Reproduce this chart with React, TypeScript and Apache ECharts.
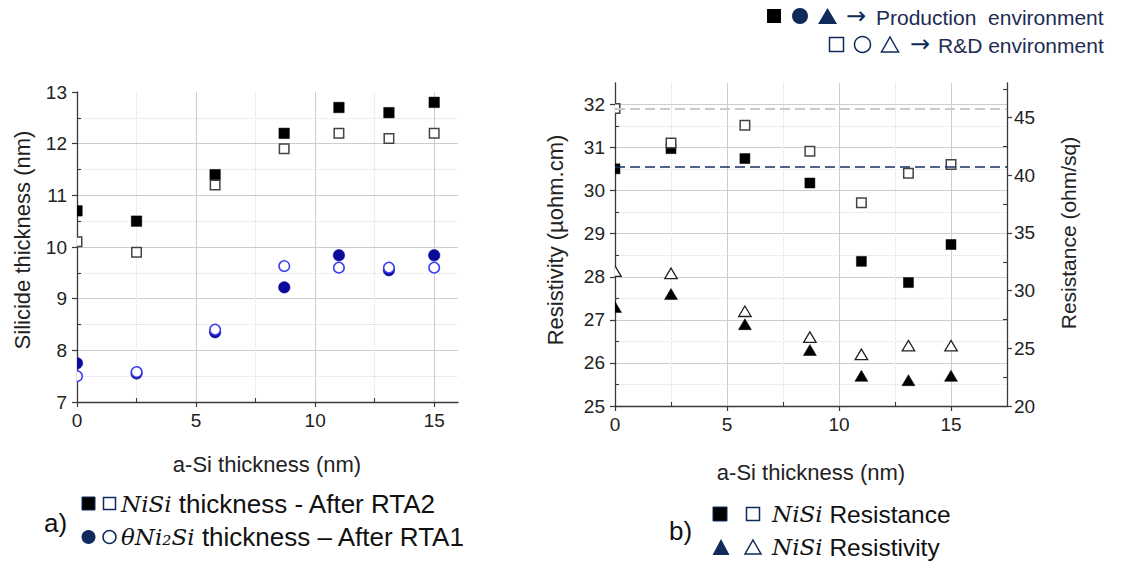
import React, { useEffect, useRef } from 'react';
import * as echarts from 'echarts';

// ---- data ----
const xThickness = [0, 2.5, 5.8, 8.7, 11, 13.1, 15];
// a) silicide thickness (nm)
const nisiProd = [10.7, 10.5, 11.4, 12.2, 12.7, 12.6, 12.8];
const nisiRD = [10.1, 9.9, 11.2, 11.9, 12.2, 12.1, 12.2];
const ni2siProd = [7.75, 7.57, 8.35, 9.24, 9.84, 9.55, 9.84];
const ni2siRD = [7.5, 7.6, 8.4, 9.65, 9.6, 9.6, 9.6];
// b) resistance (ohm/sq) and resistivity (µohm.cm)
const resistanceProd = [40.56, 42.31, 41.45, 39.33, 32.54, 30.7, 34.0];
const resistanceRD = [45.78, 42.8, 44.33, 42.09, 37.61, 40.18, 40.93];
const resistivityProd = [27.3, 27.6, 26.9, 26.3, 25.7, 25.6, 25.7];
const resistivityRD = [28.13, 28.08, 27.2, 26.6, 26.2, 26.4, 26.4];
const resistanceRefRD = 45.8;
const resistanceRefProd = 40.7;

// ---- ticks ----
const leftXTicks = [0, 5, 10, 15];
const leftXMinorTicks = [2.5, 7.5, 12.5];
const leftYTicks = [7, 8, 9, 10, 11, 12, 13];
const leftYMinorTicks = [7.5, 8.5, 9.5, 10.5, 11.5, 12.5];
const rightXTicks = [0, 5, 10, 15];
const rightXMinorTicks = [2.5, 7.5, 12.5];
const resistivityTicks = [25, 26, 27, 28, 29, 30, 31, 32];
const resistivityMinorTicks = [25.5, 26.5, 27.5, 28.5, 29.5, 30.5, 31.5];
const resistanceTicks = [20, 25, 30, 35, 40, 45];
const resistanceMinorTicks = [22.5, 27.5, 32.5, 37.5, 42.5, 47.5];

const FONT = '"Liberation Sans", Arial, Helvetica, sans-serif';
const MATH = '"DejaVu Serif", "Liberation Serif", serif';
const ARROW = '"DejaVu Sans", sans-serif';
const AXIS = '#3a3a3a';
const GRID = '#cdcdcd';
const MINOR = '#dedede';
const NAVY = '#102a5c';
const TXT = '#222222';

function pts(ys: number[]) {
  return xThickness.map((x, i) => [x, ys[i]]);
}

function marker(
  kind: 'square' | 'circle' | 'triangle',
  xAxisIndex: number,
  yAxisIndex: number,
  values: number[],
  w: number,
  h: number,
  style: any,
  z: number
) {
  return {
    type: 'custom',
    xAxisIndex,
    yAxisIndex,
    clip: true,
    z,
    data: pts(values),
    encode: { x: 0, y: 1 },
    renderItem: (params: any, api: any) => {
      const p = api.coord([api.value(0), api.value(1)]);
      const cx = p[0];
      const cy = p[1];
      if (kind === 'square') {
        return { type: 'rect', shape: { x: cx - w / 2, y: cy - h / 2, width: w, height: h }, style };
      }
      if (kind === 'circle') {
        return { type: 'circle', shape: { cx, cy, r: w / 2 }, style };
      }
      return {
        type: 'polygon',
        shape: { points: [[cx, cy - h / 2], [cx + w / 2, cy + h / 2], [cx - w / 2, cy + h / 2]] },
        style,
      };
    },
  };
}

function majorAxis(gridIndex: number, position: string, min: number, max: number, interval: number, ticks: number[], extra: any = {}) {
  return {
    type: 'value',
    gridIndex,
    position,
    min,
    max,
    interval,
    axisLine: { show: true, onZero: false, lineStyle: { color: AXIS, width: 1.3 } },
    axisTick: { show: true, inside: false, length: 5, customValues: ticks, lineStyle: { color: AXIS, width: 1.2 } },
    axisLabel: { customValues: ticks, fontSize: 19, color: TXT, fontFamily: FONT, margin: 9 },
    splitLine: { show: true, lineStyle: { color: GRID, width: 1 } },
    ...extra,
  };
}

function minorAxis(gridIndex: number, position: string, min: number, max: number, interval: number, ticks: number[], showSplit: boolean) {
  return {
    type: 'value',
    gridIndex,
    position,
    min,
    max,
    interval,
    axisLine: { show: false, onZero: false },
    axisTick: { show: true, inside: true, length: 4, customValues: ticks, lineStyle: { color: AXIS, width: 1.1 } },
    axisLabel: { show: false },
    splitLine: { show: showSplit, lineStyle: { color: MINOR, width: 1, type: 'dotted' } },
  };
}

function txt(x: number, y: number, text: string, size: number, extra: any = {}, rotation = 0) {
  return {
    type: 'text',
    x,
    y,
    rotation,
    z: 100,
    style: {
      text,
      fontSize: size,
      fontFamily: FONT,
      fill: TXT,
      align: 'center',
      verticalAlign: 'middle',
      textAlign: 'center',
      textVerticalAlign: 'middle',
      ...extra,
    },
  };
}

function leftTxt(x: number, y: number, text: string, size: number, extra: any = {}) {
  return txt(x, y, text, size, { align: 'left', textAlign: 'left', ...extra });
}

const richMathA = { m: { fontFamily: MATH, fontStyle: 'italic', fontSize: 23, fill: '#111' } };
const richMathB = { m: { fontFamily: MATH, fontStyle: 'italic', fontSize: 23, fill: '#111' } };

export default function App() {
  const ref = useRef<HTMLDivElement>(null);

  useEffect(() => {
    if (!ref.current) return;
    const chart = echarts.init(ref.current, undefined, { renderer: 'svg' });

    const leftYSplitColors = leftYTicks.map((_, i) => (i === leftYTicks.length - 1 ? 'rgba(0,0,0,0)' : GRID));

    const option: any = {
      animation: false,
      backgroundColor: '#ffffff',
      grid: [
        { left: 77, top: 92, width: 381, height: 310, containLabel: false },
        { left: 615, top: 83, width: 392, height: 323, containLabel: false },
      ],
      xAxis: [
        majorAxis(0, 'bottom', 0, 16, 5, leftXTicks),
        minorAxis(0, 'bottom', 0, 16, 2.5, leftXMinorTicks, true),
        majorAxis(1, 'bottom', 0, 17.5, 5, rightXTicks),
        minorAxis(1, 'bottom', 0, 17.5, 2.5, rightXMinorTicks, true),
      ],
      yAxis: [
        majorAxis(0, 'left', 7, 13, 1, leftYTicks, {
          axisLabel: { customValues: leftYTicks, fontSize: 19, color: TXT, fontFamily: FONT, margin: 10 },
          splitLine: { show: true, lineStyle: { color: leftYSplitColors, width: 1 } },
        }),
        minorAxis(0, 'left', 7, 13, 0.5, leftYMinorTicks, true),
        majorAxis(1, 'left', 25, 32.5, 1, resistivityTicks, {
          axisLabel: { customValues: resistivityTicks, fontSize: 19, color: TXT, fontFamily: FONT, margin: 10 },
        }),
        minorAxis(1, 'left', 25, 32.5, 0.5, resistivityMinorTicks, true),
        majorAxis(1, 'right', 20, 48, 5, resistanceTicks, {
          axisLabel: { customValues: resistanceTicks, fontSize: 19, color: TXT, fontFamily: FONT, margin: 7 },
          splitLine: { show: false },
        }),
        minorAxis(1, 'right', 20, 48, 2.5, resistanceMinorTicks, false),
      ],
      series: [
        // a) NiSi thickness
        marker('square', 0, 0, nisiProd, 10.5, 10.5, { fill: '#000000', stroke: '#000000', lineWidth: 0.5 }, 3),
        marker('square', 0, 0, nisiRD, 9.5, 9.5, { fill: '#ffffff', stroke: '#444444', lineWidth: 1.5 }, 4),
        // a) θNi2Si thickness
        marker('circle', 0, 0, ni2siProd, 11.5, 11.5, { fill: '#0a0a9c', stroke: '#0a0a9c', lineWidth: 0.5 }, 3),
        marker('circle', 0, 0, ni2siRD, 10.5, 10.5, { fill: '#ffffff', stroke: '#3a3af2', lineWidth: 1.5 }, 4),
        // b) reference lines (resistance at 0 nm)
        {
          type: 'line',
          xAxisIndex: 2,
          yAxisIndex: 4,
          data: [],
          showSymbol: false,
          z: 2,
          markLine: {
            silent: true,
            symbol: ['none', 'none'],
            label: { show: false },
            animation: false,
            data: [
              { yAxis: resistanceRefRD, lineStyle: { color: '#c9c9c9', type: [10, 5], width: 2 } },
              { yAxis: resistanceRefProd, lineStyle: { color: '#14305f', type: [10, 5], width: 1.5 } },
            ],
          },
        },
        // b) resistance (right axis)
        marker('square', 2, 4, resistanceProd, 10, 10, { fill: '#000000', stroke: '#000000', lineWidth: 0.5 }, 3),
        marker('square', 2, 4, resistanceRD, 9.5, 9.5, { fill: '#ffffff', stroke: '#444444', lineWidth: 1.5 }, 4),
        // b) resistivity (left axis)
        marker('triangle', 2, 2, resistivityProd, 13, 11, { fill: '#000000', stroke: '#000000', lineWidth: 0.5 }, 3),
        marker('triangle', 2, 2, resistivityRD, 12.5, 10.5, { fill: '#ffffff', stroke: '#222222', lineWidth: 1.3 }, 4),
      ],
      graphic: {
        elements: [
          // axis names
          txt(22, 240, 'Silicide thickness (nm)', 22, {}, Math.PI / 2),
          txt(267, 464, 'a-Si thickness (nm)', 22),
          txt(555, 240, 'Resistivity (µohm.cm)', 22, {}, Math.PI / 2),
          txt(1068, 233, 'Resistance (ohm/sq)', 21, {}, Math.PI / 2),
          txt(811, 472, 'a-Si thickness (nm)', 22),

          // top-right legend
          { type: 'rect', z: 100, shape: { x: 767, y: 9, width: 14, height: 14 }, style: { fill: '#000000' } },
          { type: 'circle', z: 100, shape: { cx: 800, cy: 16, r: 8 }, style: { fill: NAVY } },
          { type: 'polygon', z: 100, shape: { points: [[827.5, 8], [837, 24], [818, 24]] }, style: { fill: NAVY } },
          leftTxt(846, 16, '→', 24, { fill: NAVY, fontFamily: ARROW }),
          leftTxt(876, 17, 'Production  environment', 21, { fill: '#1c2c52' }),
          { type: 'rect', z: 100, shape: { x: 829.5, y: 37.5, width: 14, height: 14 }, style: { fill: 'none', stroke: NAVY, lineWidth: 1.5 } },
          { type: 'circle', z: 100, shape: { cx: 862.5, cy: 44.5, r: 8 }, style: { fill: 'none', stroke: NAVY, lineWidth: 1.5 } },
          { type: 'polygon', z: 100, shape: { points: [[890, 37], [898.5, 52], [881.5, 52]] }, style: { fill: 'none', stroke: NAVY, lineWidth: 1.5 } },
          leftTxt(910, 44, '→', 24, { fill: NAVY, fontFamily: ARROW }),
          leftTxt(938, 45, 'R&D environment', 21, { fill: '#1c2c52' }),

          // bottom-left legend
          leftTxt(44, 523, 'a)', 26, { fill: '#111' }),
          { type: 'rect', z: 100, shape: { x: 82, y: 497, width: 13, height: 13 }, style: { fill: '#000000', stroke: NAVY, lineWidth: 1 } },
          { type: 'rect', z: 100, shape: { x: 103.5, y: 497.5, width: 12, height: 12 }, style: { fill: 'none', stroke: NAVY, lineWidth: 1.5 } },
          leftTxt(121, 504, '{m|NiSi} thickness - After RTA2', 26, { fill: '#111', rich: richMathA }),
          { type: 'circle', z: 100, shape: { cx: 88.5, cy: 537, r: 7 }, style: { fill: NAVY } },
          { type: 'circle', z: 100, shape: { cx: 109.5, cy: 537, r: 6.5 }, style: { fill: 'none', stroke: NAVY, lineWidth: 1.5 } },
          leftTxt(121, 537, '{m|θNi₂Si} thickness – After RTA1', 26, { fill: '#111', rich: richMathA }),

          // bottom-right legend
          leftTxt(669, 531, 'b)', 26, { fill: '#111' }),
          { type: 'rect', z: 100, shape: { x: 713, y: 507, width: 14, height: 14 }, style: { fill: '#000000', stroke: NAVY, lineWidth: 1 } },
          { type: 'rect', z: 100, shape: { x: 746.5, y: 507.5, width: 13, height: 13 }, style: { fill: 'none', stroke: NAVY, lineWidth: 1.5 } },
          leftTxt(772, 514, '{m|NiSi} Resistance', 24.5, { fill: '#111', rich: richMathB }),
          { type: 'polygon', z: 100, shape: { points: [[721, 539], [729.5, 555], [712.5, 555]] }, style: { fill: NAVY } },
          { type: 'polygon', z: 100, shape: { points: [[753, 540], [761, 554], [745, 554]] }, style: { fill: 'none', stroke: NAVY, lineWidth: 1.5 } },
          leftTxt(772, 547, '{m|NiSi} Resistivity', 24.5, { fill: '#111', rich: richMathB }),
        ],
      },
    };

    chart.setOption(option);
    return () => {
      chart.dispose();
    };
  }, []);

  return (
    <div
      ref={ref}
      style={{ position: 'fixed', left: 0, top: 0, width: 1123, height: 563, background: '#ffffff' }}
    />
  );
}
